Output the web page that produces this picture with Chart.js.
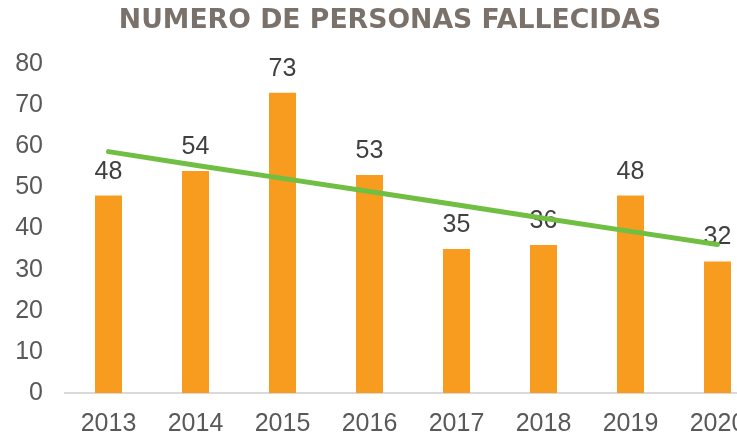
<!DOCTYPE html>
<html>
<head>
<meta charset="utf-8">
<script src="https://cdn.jsdelivr.net/npm/chart.js@4"></script>
<style>
  html, body { margin: 0; padding: 0; background: #ffffff; overflow: hidden; }
  #wrap { position: absolute; left: 0; top: 0; width: 780px; height: 435px; }
</style>
</head>
<body>
<div id="wrap"><canvas id="c"></canvas></div>
<script>
const years = ['2013', '2014', '2015', '2016', '2017', '2018', '2019', '2020'];
const fallecidos = [48, 54, 73, 53, 35, 36, 48, 32];
const tendencia = [58.7, 55.4, 52.2, 49.0, 45.8, 42.5, 39.3, 36.1];
const yTicks = [0, 10, 20, 30, 40, 50, 60, 70, 80];
const titulo = 'NUMERO DE PERSONAS FALLECIDAS';

const tickFont = { family: "'Liberation Sans Narrow', 'Liberation Sans', Arial, sans-serif", size: 25 };

const barLabels = {
  id: 'barLabels',
  afterDatasetDraw(chart, args) {
    if (args.index !== 0) return;
    const ctx = chart.ctx;
    ctx.save();
    ctx.font = "25px 'Liberation Sans Narrow', 'Liberation Sans', Arial, sans-serif";
    ctx.fillStyle = '#404040';
    ctx.textAlign = 'center';
    ctx.textBaseline = 'alphabetic';
    args.meta.data.forEach((el, i) => {
      ctx.fillText(String(chart.data.datasets[0].data[i]), el.x, el.y - 17);
    });
    ctx.restore();
  }
};

new Chart(document.getElementById('c'), {
  data: {
    labels: years,
    datasets: [
      {
        type: 'bar',
        data: fallecidos,
        backgroundColor: '#F89C1F',
        borderWidth: 0,
        categoryPercentage: 1,
        barPercentage: 0.31,
        order: 2
      },
      {
        type: 'line',
        data: tendencia,
        borderColor: '#70BF43',
        borderWidth: 5,
        borderCapStyle: 'round',
        pointRadius: 0,
        fill: false,
        tension: 0,
        order: 1
      }
    ]
  },
  plugins: [barLabels],
  options: {
    responsive: true,
    maintainAspectRatio: false,
    animation: false,
    layout: { padding: 0 },
    plugins: {
      legend: { display: false },
      tooltip: { enabled: false },
      title: {
        display: true,
        text: titulo,
        color: '#7A716A',
        font: { family: "'DejaVu Sans', Verdana, sans-serif", size: 26.7, weight: 'bold', lineHeight: 1.2 },
        padding: { top: 5, bottom: 27 }
      }
    },
    scales: {
      x: {
        offset: true,
        grid: { display: false, drawTicks: false },
        border: { display: true, color: '#D9D9D9', width: 2 },
        ticks: { color: '#595959', font: tickFont, padding: 16, maxRotation: 0, autoSkip: false },
        afterFit(scale) { scale.height = 42; }
      },
      y: {
        min: 0,
        max: 80,
        grid: { display: false, drawTicks: false },
        border: { display: false },
        afterBuildTicks(scale) { scale.ticks = yTicks.map(v => ({ value: v })); },
        ticks: { color: '#595959', font: tickFont, padding: 22 },
        afterFit(scale) { scale.width = 65; }
      },
      yRight: {
        position: 'right',
        display: true,
        min: 0,
        max: 80,
        grid: { display: false, drawTicks: false },
        border: { display: false },
        ticks: { display: false },
        afterFit(scale) { scale.width = 19; }
      }
    }
  }
});
</script>
</body>
</html>
